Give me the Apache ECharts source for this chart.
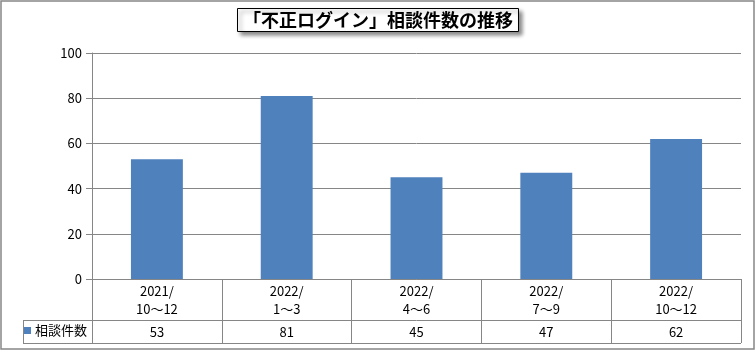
<!DOCTYPE html>
<html>
<head>
<meta charset="utf-8">
<script src="https://cdn.jsdelivr.net/npm/echarts@6/dist/echarts.min.js"></script>
<style>
  html, body { margin: 0; padding: 0; background: #fff; }
  #chart { width: 756px; height: 351px; }
</style>
</head>
<body>
<div id="chart"></div>
<script>
// 四半期ごとの相談件数
const categories = ['2021/\n10～12', '2022/\n1～3', '2022/\n4～6', '2022/\n7～9', '2022/\n10～12'];
const counts = [53, 81, 45, 47, 62];
const seriesName = '相談件数';
const yTicks = { min: 0, max: 100, interval: 20 };

const FONT = '"Noto Sans CJK JP", sans-serif';
const LINE = '#868686';

const chart = echarts.init(document.getElementById('chart'));

chart.setOption({
  animation: false,
  title: {
    text: '「不正ログイン」相談件数の推移',
    left: 'center',
    top: 8,
    padding: [3, 6, 3, 6],
    backgroundColor: '#fff',
    borderColor: '#000',
    borderWidth: 1,
    shadowBlur: 4,
    shadowColor: 'rgba(0,0,0,0.45)',
    shadowOffsetX: 3,
    shadowOffsetY: 3,
    textStyle: { fontFamily: FONT, fontSize: 18, fontWeight: 'bold', color: '#000' }
  },
  legend: {
    data: [seriesName],
    left: 24,
    top: 324,
    padding: 0,
    icon: 'rect',
    itemWidth: 7,
    itemHeight: 7,
    itemGap: 4,
    textStyle: { fontFamily: FONT, fontSize: 13, color: '#000', padding: [0, 0, 0, -1] }
  },
  grid: { left: 92, right: 15, top: 53, bottom: 72 },
  xAxis: [
    {
      type: 'category',
      data: categories,
      axisLine: { lineStyle: { color: LINE } },
      axisTick: { show: true, length: 64, interval: 0, lineStyle: { color: LINE } },
      axisLabel: { interval: 0, margin: 3, fontFamily: FONT, fontSize: 13, color: '#000', lineHeight: 18 }
    },
    {
      // データテーブルの値の行
      type: 'category',
      position: 'bottom',
      offset: 41,
      data: counts.map(String),
      axisLine: { lineStyle: { color: LINE } },
      axisTick: { show: false },
      axisLabel: { interval: 0, margin: 3, fontFamily: FONT, fontSize: 13, color: '#000', lineHeight: 18 }
    }
  ],
  yAxis: {
    type: 'value',
    min: yTicks.min,
    max: yTicks.max,
    interval: yTicks.interval,
    axisLine: { show: true, lineStyle: { color: LINE } },
    axisTick: { show: true, length: 6, lineStyle: { color: LINE } },
    splitLine: { lineStyle: { color: LINE } },
    axisLabel: { margin: 10, fontFamily: FONT, fontSize: 13, color: '#000' }
  },
  series: [
    {
      name: seriesName,
      type: 'bar',
      data: counts,
      barWidth: '40%',
      itemStyle: { color: '#4F81BD' }
    }
  ],
  graphic: [
    // 外枠
    { type: 'rect', shape: { x: 1, y: 1, width: 753, height: 348 }, style: { fill: null, stroke: LINE, lineWidth: 1.5 }, silent: true },
    // 凡例セルの枠
    { type: 'line', shape: { x1: 23, y1: 320.5, x2: 92, y2: 320.5 }, style: { stroke: LINE, lineWidth: 1 } },
    { type: 'line', shape: { x1: 23, y1: 343.5, x2: 741, y2: 343.5 }, style: { stroke: LINE, lineWidth: 1 } },
    { type: 'line', shape: { x1: 23.5, y1: 320, x2: 23.5, y2: 344 }, style: { stroke: LINE, lineWidth: 1 } }
  ]
});
</script>
</body>
</html>
